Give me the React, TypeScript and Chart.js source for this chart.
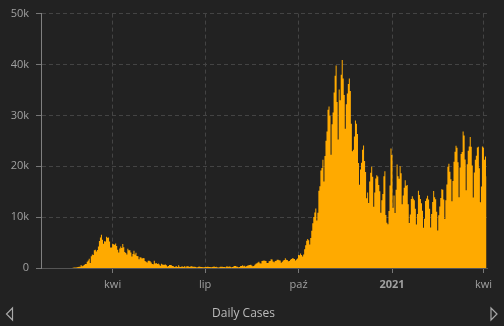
import React, { useEffect, useRef } from "react";
import { Chart, registerables } from "chart.js";

Chart.register(...registerables);

// Daily new cases, one value per day, starting 22 Jan 2020
const jan2020 = [0, 0, 0, 0, 0, 0, 0, 0, 0, 2];
const feb2020 = [0, 0, 0, 0, 0, 0, 1, 0, 0, 0, 0, 0, 0, 0, 0, 0, 0, 0, 0, 0, 17, 42, 93, 74, 93, 131, 202, 233, 240];
const mar2020 = [566, 342, 466, 587, 769, 778, 1247, 1492, 1797, 977, 2313, 2651, 2547, 3497, 3590, 3233, 3526, 4207, 5322, 5986, 6557, 5560, 4789, 5249, 5210, 6153, 5959, 5974, 5217, 4050, 4053];
const apr2020 = [4782, 4668, 4585, 4805, 4316, 3599, 3039, 3836, 4204, 3951, 4694, 4092, 3153, 2972, 2667, 3786, 3493, 3491, 3047, 2256, 2729, 3370, 2646, 3021, 2357, 2324, 1739, 2091, 2086, 1872];
const may2020 = [1965, 1900, 1389, 1221, 1075, 1444, 1401, 1327, 1083, 802, 744, 1402, 888, 992, 789, 875, 675, 451, 813, 665, 642, 652, 669, 531, 300, 397, 584, 593, 516, 416, 355];
const jun2020 = [178, 318, 321, 177, 518, 270, 197, 280, 283, 202, 379, 163, 346, 338, 301, 210, 328, 331, 251, 262, 224, 218, 122, 190, 296, 259, 175, 174, 126, 142];
const jul2020 = [182, 201, 223, 235, 192, 208, 138, 193, 229, 276, 188, 234, 169, 114, 162, 230, 233, 249, 219, 190, 129, 282, 306, 252, 275, 255, 170, 212, 289, 386, 379];
const aug2020 = [295, 239, 159, 190, 384, 402, 552, 347, 463, 259, 412, 481, 523, 574, 629, 479, 320, 403, 642, 845, 947, 1071, 1210, 953, 878, 1367, 1411, 1462, 1444, 1365, 996];
const sep2020 = [978, 1326, 1397, 1733, 1695, 1297, 1108, 1370, 1434, 1597, 1616, 1501, 1458, 1008, 1229, 1452, 1585, 1907, 1638, 1587, 1350, 1392, 1640, 1786, 1912, 1869, 1766, 1494, 1648, 1851];
const oct2020 = [2548, 2499, 2844, 2578, 2257, 2677, 3678, 4458, 5372, 5724, 5456, 4619, 5901, 7332, 8804, 10010, 10925, 11705, 9338, 10874, 15199, 16079, 19143, 19644, 21273, 17012, 21994, 24991, 26831, 31084, 31758];
const nov2020 = [29907, 22253, 28244, 30550, 34505, 37809, 39811, 32616, 25271, 35098, 32961, 37978, 40902, 37255, 33979, 27354, 32191, 34282, 36176, 37242, 34767, 28337, 22930, 23232, 25853, 29003, 28352, 26323, 20648, 16377];
const dec2020 = [19350, 20709, 23225, 24099, 21052, 18887, 13720, 14842, 12756, 16999, 18727, 19903, 17938, 12030, 14844, 17572, 18236, 17992, 16308, 15104, 10872, 13318, 14522, 18040, 19037, 10407, 8913, 8585, 11212, 16202, 23477];
const jan2021 = [22211, 11831, 14245, 10800, 15378, 20331, 18020, 17533, 19978, 18627, 12532, 14242, 15774, 17246, 16146, 16310, 12545, 8824, 10497, 13571, 14078, 13633, 13331, 11629, 8561, 10593, 15204, 14372, 13574, 12715, 11252];
const feb2021 = [7925, 9660, 13189, 13659, 14218, 13442, 11641, 7970, 10630, 12956, 15146, 13908, 13532, 11068, 7351, 10386, 12074, 13762, 15479, 15370, 13452, 9630, 13314, 16424, 19886, 20499, 18916, 17455];
const mar2021 = [13114, 17083, 20884, 22865, 24036, 23641, 20765, 13902, 19749, 22409, 22791, 26824, 26062, 21315, 15267, 20396, 23059, 23887, 25735, 23832, 20159, 13846, 18765, 21267, 22073, 23696, 23839, 19611, 12916, 16017, 23904];
const apr2021 = [23649, 21261, 21932, 18025];

// x tick positions (day index from 22 Jan 2020) and their labels
const tickDays = [70, 161, 253, 345, 435];
const tickLabels = ["kwi", "lip", "paź", "2021", "kwi"];
const boldTick = 345;

const yTicks = [0, 10000, 20000, 30000, 40000, 50000];
const seriesLabel = "Daily Cases";

const dailyCases = [
  ...jan2020, ...feb2020, ...mar2020, ...apr2020, ...may2020, ...jun2020,
  ...jul2020, ...aug2020, ...sep2020, ...oct2020, ...nov2020, ...dec2020,
  ...jan2021, ...feb2021, ...mar2021, ...apr2021,
];

const BG = "#222222";
const FONT = "'Open Sans', 'DejaVu Sans', sans-serif";

export default function App() {
  const ref = useRef<HTMLCanvasElement | null>(null);

  useEffect(() => {
    document.body.style.margin = "0";
    document.body.style.background = BG;
    const canvas = ref.current;
    if (!canvas) return;

    const bgPlugin = {
      id: "bgAndArrows",
      beforeDraw(chart: any) {
        const c = chart.ctx;
        c.save();
        c.fillStyle = BG;
        c.fillRect(0, 0, chart.width, chart.height);
        c.restore();
      },
      afterDraw(chart: any) {
        const c = chart.ctx;
        c.save();
        c.strokeStyle = "#a8a8a8";
        c.lineWidth = 1.2;
        c.beginPath();
        c.moveTo(12.5, 308);
        c.lineTo(12.5, 320);
        c.lineTo(6.5, 314);
        c.closePath();
        c.stroke();
        c.beginPath();
        c.moveTo(491, 308);
        c.lineTo(491, 320);
        c.lineTo(497, 314);
        c.closePath();
        c.stroke();
        c.restore();
      },
    };

    const chart = new Chart(canvas, {
      type: "line",
      data: {
        datasets: [
          {
            label: seriesLabel,
            data: dailyCases.map((v, i) => ({ x: i, y: v })),
            backgroundColor: "#FFAA00",
            borderColor: "#FFAA00",
            borderWidth: 0,
            pointRadius: 0,
            stepped: "middle",
            fill: "origin",
          },
        ],
      },
      options: {
        animation: false,
        responsive: false,
        layout: { padding: { top: 11, right: 17, left: 0, bottom: 0 } },
        plugins: {
          legend: { display: false },
          tooltip: { enabled: false },
          title: {
            display: true,
            position: "bottom",
            text: seriesLabel,
            color: "#bbbbbb",
            font: { family: FONT, size: 12, weight: "normal" },
            padding: { top: 8, bottom: 5.6 },
          },
        },
        scales: {
          x: {
            type: "linear",
            offset: false,
            min: -0.5,
            max: dailyCases.length - 0.5,
            afterBuildTicks: (s: any) => {
              s.ticks = tickDays.map((v) => ({ value: v }));
            },
            afterFit: (s: any) => {
              s.height = 30;
            },
            ticks: {
              autoSkip: false,
              maxRotation: 0,
              padding: 5,
              color: "#a0a0a0",
              font: (ctx: any) => ({
                family: FONT,
                size: 11,
                weight: ctx.tick && ctx.tick.value === boldTick ? "bold" : "normal",
              }),
              callback: (v: any) => {
                const i = tickDays.indexOf(Number(v));
                return i >= 0 ? tickLabels[i] : "";
              },
            },
            grid: {
              offset: false,
              color: "#444444",
              tickColor: "#777777",
              tickLength: 5,
              drawOnChartArea: true,
            },
            border: { display: true, color: "#555555", dash: [4, 3] },
          },
          y: {
            min: 0,
            max: 50000,
            afterBuildTicks: (s: any) => {
              s.ticks = yTicks.map((v) => ({ value: v }));
            },
            afterFit: (s: any) => {
              s.width = 41;
            },
            ticks: {
              padding: 7,
              color: "#a0a0a0",
              font: { family: FONT, size: 11 },
              callback: (v: any) => (Number(v) === 0 ? "0" : Number(v) / 1000 + "k"),
            },
            grid: {
              color: "#444444",
              tickColor: "#777777",
              tickLength: 5,
            },
            border: { display: true, color: "#808080", width: 1, dash: [4, 3] },
          },
        },
      } as any,
      plugins: [bgPlugin],
    });

    return () => chart.destroy();
  }, []);

  return (
    <div style={{ width: 504, height: 326, background: BG }}>
      <canvas ref={ref} width={504} height={326} style={{ display: "block" }} />
    </div>
  );
}
